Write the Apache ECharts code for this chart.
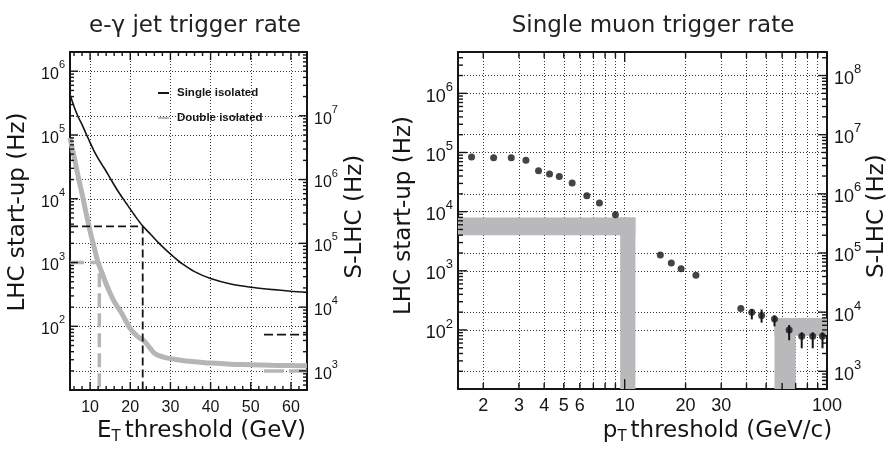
<!DOCTYPE html>
<html><head><meta charset="utf-8">
<script src="https://cdn.jsdelivr.net/npm/echarts@6/dist/echarts.min.js"></script>
<style>html,body{margin:0;padding:0;background:#fff}#c{width:892px;height:450px}</style>
</head><body><div id="c"></div>
<script>
// ---------------- data ----------------
const egTitle = 'e-γ jet trigger rate';
const muTitle = 'Single muon trigger rate';
const seriesNames = ['Single isolated', 'Double isolated'];

// e-gamma panel (LHC start-up rate, Hz)
const etSingle = [5,6,7,8,9,10,11,12,13,14,15,17,19,21,23,25,27,29,31,33,36,40,45,50,55,60,64];
const rateSingle = [430000,280000,195000,145000,105000,76000,56000,43000,34000,27000,21000,13000,8500,5600,3800,2800,2050,1550,1200,950,720,560,460,410,380,355,340];
const etDouble = [5,6,7,8,9,10,11,12,13,14,15,16,17,18,19,20,21,22,23,24,25,26,27,29,31,34,37,40,45,50,55,60,64];
const rateDouble = [90000,46000,23000,12000,6000,3100,1750,1000,680,460,330,245,195,155,118,92,78,68,62,54,45,38,35,32,30.5,28.5,27.5,26.5,25.5,25,24.5,24.3,24];
// chosen thresholds: [Et, rate]
const singleCut = [23.1, 3700];
const doubleCut = [12.3, 1000];
// S-LHC marks on the right scale (Et span, rate)
const sLhcMarkEt = [53.3, 64];
const sLhcSingleRate = 3700;
const sLhcDoubleRate = 1000;

// muon panel
const ptThreshold = [1.75,2.25,2.75,3.25,3.75,4.25,4.75,5.5,6.5,7.5,9,15,17,19,22.5,37.5,42.5,47.5,55,65,75,85,95];
const muonRate = [84000,81500,81500,74000,49300,43500,39400,30600,18500,14000,8900,1850,1350,1080,840,230,200,176,153,100,78,78,78];
const muonErrLow = [null,null,null,null,null,null,null,null,null,null,null,null,null,null,null,null,151,133,115,67,49,49,49];
const muonErrHigh = [null,null,null,null,null,null,null,null,null,null,null,null,null,null,null,null,226,221,176,121,91,91,91];
// allowed-rate bands: [pt range], [rate range]
const lhcBandPt = [9.5, 11.3];
const lhcBandRate = [4000, 8000];     // LHC start-up scale
const slhcBandPt = [55, 70];
const slhcBandRate = [4000, 8000];    // S-LHC scale

// axis ranges / tick labels
const etRange = [5, 64];
const etTicks = [10,20,30,40,50,60];
const eg_lhcRange = [10, 2e6];
const eg_slhcRange = [500, 1e8];
const ptRange = [1.5, 100];
const ptLabels = [2,3,4,5,6,10,20,30,100];
const mu_lhcRange = [10, 5e6];
const mu_slhcRange = [500, 2.5e8];

// ---------------- helpers ----------------
function decades(r){const o=[];for(let e=Math.ceil(Math.log10(r[0])-1e-9);e<=Math.floor(Math.log10(r[1])+1e-9);e++)o.push(Math.pow(10,e));return o;}
function inner(vals,r){return vals.filter(v=>v>r[0]*1.0001&&v<r[1]*0.9999);}
function logMinor(r){const o=[];for(let e=Math.floor(Math.log10(r[0]));e<=Math.ceil(Math.log10(r[1]));e++){for(let m=2;m<=9;m++){o.push(m*Math.pow(10,e));}}return inner(o,r);}
const INK='#151515', GRAY='#b5b5b7', BAND='#b9b9bb';
const TICKF='Liberation Sans', NAMEF='DejaVu Sans';
const dotted={show:true,lineStyle:{color:'#333',width:1,type:[1,2]}};
function supRich(fs){return {b:{fontFamily:TICKF,fontSize:fs,color:INK,lineHeight:fs+7,verticalAlign:'bottom'},s:{fontFamily:TICKF,fontSize:Math.round(fs*0.7),color:INK,lineHeight:fs+7,verticalAlign:'top'}};}
function powFmt(v){return '{b|10}{s|'+Math.round(Math.log10(v))+'}';}
const nameStyle={fontFamily:NAMEF,fontSize:23,color:INK};
const frame={show:true,onZero:false,lineStyle:{color:INK,width:2}};
// axis ticks carry grid-line positions; visible tick marks are added as graphic lines placed via the axes' scales
function gridTicks(vals){return {show:true,customValues:vals,length:0,lineStyle:{opacity:0,width:0}};}
function subRich(){return {a:{fontFamily:NAMEF,fontSize:23,color:INK},t:{fontFamily:NAMEF,fontSize:15,color:INK,padding:[12,4,0,0]}};}

const etMinor=[];for(let v=etRange[0]+1;v<=etRange[1];v+=2){if(v%10!==0)etMinor.push(v);}
const ptMinor=logMinor(ptRange);
const ptDec=inner(decades(ptRange),ptRange);

const xAxis=[
  {type:'value',gridIndex:0,position:'bottom',min:etRange[0],max:etRange[1],
    axisLine:frame,axisTick:gridTicks(etTicks),splitLine:dotted,
    axisLabel:{show:true,customValues:etTicks,fontFamily:TICKF,fontSize:16,color:INK,margin:9},
    name:'{a|E}{t|T}{a|threshold (GeV)}',nameLocation:'middle',nameGap:24,
    nameTextStyle:{padding:[0,0,0,26],rich:subRich()}},
  {type:'value',gridIndex:0,position:'top',min:etRange[0],max:etRange[1],axisLine:frame,
    axisTick:{show:false},axisLabel:{show:false},splitLine:{show:false}},
  {type:'log',logBase:10,gridIndex:1,position:'bottom',min:ptRange[0],max:ptRange[1],
    axisLine:frame,axisTick:gridTicks(ptMinor.concat(ptDec)),splitLine:dotted,
    axisLabel:{show:true,customValues:ptLabels,fontFamily:TICKF,fontSize:18,color:INK,margin:8},
    name:'{a|p}{t|T}{a|threshold (GeV/c)}',nameLocation:'middle',nameGap:22,
    nameTextStyle:{padding:[0,0,0,150],rich:subRich()}},
  {type:'log',logBase:10,gridIndex:1,position:'top',min:ptRange[0],max:ptRange[1],axisLine:frame,
    axisTick:{show:false},axisLabel:{show:false},splitLine:{show:false}}
];

function yMain(grid,pos,range,labFrom,labTo,fs,name,gap,shift){
  const dec=decades(range);
  const labs=dec.filter(v=>v>=labFrom&&v<=labTo);
  return {type:'log',logBase:10,gridIndex:grid,position:pos,min:range[0],max:range[1],
    axisLine:frame,axisTick:gridTicks(inner(dec,range)),splitLine:dotted,
    axisLabel:{show:true,customValues:labs,formatter:powFmt,rich:supRich(fs),margin:pos==='left'?5:7},
    name:name,nameLocation:'middle',nameGap:gap,nameRotate:90,
    nameTextStyle:Object.assign({},nameStyle,{padding:[0,0,0,shift]})};
}
const yAxis=[
  yMain(0,'left',eg_lhcRange,100,1e6,16,'LHC start-up (Hz)',40,18),
  yMain(0,'right',eg_slhcRange,1e3,1e7,16,'S-LHC (Hz)',37,9),
  yMain(1,'left',mu_lhcRange,100,1e6,18,'LHC start-up (Hz)',42,10),
  yMain(1,'right',mu_slhcRange,1e3,1e8,18,'S-LHC (Hz)',38,9)
];

function pairs(xs,ys){return xs.map((x,i)=>[x,ys[i]]);}
function rectItem(params,api){
  const p0=api.coord([api.value(0),api.value(2)]);
  const p1=api.coord([api.value(1),api.value(3)]);
  return {type:'rect',shape:{x:Math.min(p0[0],p1[0]),y:Math.min(p0[1],p1[1]),width:Math.abs(p1[0]-p0[0]),height:Math.abs(p1[1]-p0[1])},style:{fill:BAND}};
}

const series=[
  {type:'custom',name:'lhcBand',xAxisIndex:2,yAxisIndex:2,renderItem:rectItem,silent:true,z:1,
    encode:{x:[0,1],y:[2,3]},
    data:[[ptRange[0],lhcBandPt[1],lhcBandRate[0],lhcBandRate[1]],[lhcBandPt[0],lhcBandPt[1],mu_lhcRange[0],lhcBandRate[1]]]},
  {type:'custom',name:'slhcBand',xAxisIndex:2,yAxisIndex:3,renderItem:rectItem,silent:true,z:1,
    encode:{x:[0,1],y:[2,3]},
    data:[[slhcBandPt[0],ptRange[1],slhcBandRate[0],slhcBandRate[1]],[slhcBandPt[0],slhcBandPt[1],mu_slhcRange[0],slhcBandRate[1]]]},
  {type:'custom',name:'err',xAxisIndex:2,yAxisIndex:2,z:3,encode:{x:0,y:[1,2]},
    data:ptThreshold.map((p,i)=>[p,muonErrLow[i],muonErrHigh[i]]).filter(d=>d[1]!=null),
    renderItem:function(params,api){
      const a=api.coord([api.value(0),api.value(1)]),b=api.coord([api.value(0),api.value(2)]);
      return {type:'line',shape:{x1:a[0],y1:a[1],x2:b[0],y2:b[1]},style:{stroke:INK,lineWidth:2}};
    }},
  {type:'scatter',name:'muon',xAxisIndex:2,yAxisIndex:2,symbol:'circle',symbolSize:7,z:4,
    itemStyle:{color:INK},data:pairs(ptThreshold,muonRate)},
  {type:'line',name:seriesNames[1],xAxisIndex:0,yAxisIndex:0,data:pairs(etDouble,rateDouble),
    showSymbol:false,symbol:'none',smooth:0.3,lineStyle:{color:GRAY,width:5},itemStyle:{color:GRAY},z:2},
  {type:'line',name:seriesNames[0],xAxisIndex:0,yAxisIndex:0,data:pairs(etSingle,rateSingle),
    showSymbol:false,symbol:'none',smooth:0.3,lineStyle:{color:INK,width:1.6},itemStyle:{color:INK},z:3},
  {type:'line',name:'singleCut',xAxisIndex:0,yAxisIndex:0,symbol:'none',
    data:[[etRange[0],singleCut[1]],[singleCut[0],singleCut[1]],[singleCut[0],eg_lhcRange[0]]],
    lineStyle:{color:INK,width:1.8,type:[8,4]},z:3},
  {type:'line',name:'doubleCut',xAxisIndex:0,yAxisIndex:0,symbol:'none',
    data:[[etRange[0],doubleCut[1]],[doubleCut[0],doubleCut[1]],[doubleCut[0],eg_lhcRange[0]]],
    lineStyle:{color:GRAY,width:3.5,type:[14,6]},z:2},
  {type:'line',name:'slhcSingle',xAxisIndex:0,yAxisIndex:1,symbol:'none',
    data:[[sLhcMarkEt[0],sLhcSingleRate],[sLhcMarkEt[1],sLhcSingleRate]],
    lineStyle:{color:INK,width:1.8,type:[9,4]},z:3},
  {type:'line',name:'slhcDouble',xAxisIndex:0,yAxisIndex:1,symbol:'none',
    data:[[sLhcMarkEt[0],sLhcDoubleRate],[sLhcMarkEt[1],sLhcDoubleRate]],
    lineStyle:{color:GRAY,width:3.5,type:[20,5]},z:2}
];

const option={
  animation:false,
  backgroundColor:'#fff',
  title:[
    {text:egTitle,left:190,top:10,textAlign:'center',textStyle:{fontFamily:NAMEF,fontSize:23,fontWeight:'normal',color:'#222'}},
    {text:muTitle,left:648,top:10,textAlign:'center',textStyle:{fontFamily:NAMEF,fontSize:23,fontWeight:'normal',color:'#222'}}
  ],
  legend:{data:[seriesNames[0],seriesNames[1]],left:152,top:82,orient:'vertical',itemWidth:11,itemHeight:7,itemGap:13,
    itemStyle:{opacity:0},
    textStyle:{fontFamily:TICKF,fontWeight:'bold',fontSize:11.5,color:INK,padding:[0,0,0,3]}},
  grid:[{left:70,top:52,width:237,height:348},{left:458,top:52,width:369,height:348}],
  xAxis:xAxis,
  yAxis:yAxis,
  series:series
};
const chart=echarts.init(document.getElementById('c'),null,{renderer:'canvas',width:892,height:450});
chart.setOption(option);

// ---- tick marks: positions come from the axes' own scales (convertToPixel) ----
const tickEls=[];
function addTicks(xi,yi,side,vals,len,xr,yr){
  const f={xAxisIndex:xi,yAxisIndex:yi};
  vals.forEach(v=>{
    if(side==='x'){
      const b=chart.convertToPixel(f,[v,yr[0]]), t=chart.convertToPixel(f,[v,yr[1]]);
      if(!b||!t) return;
      tickEls.push({type:'line',silent:true,z:50,shape:{x1:b[0],y1:b[1],x2:b[0],y2:b[1]-len},style:{stroke:INK,lineWidth:1.4}});
      tickEls.push({type:'line',silent:true,z:50,shape:{x1:t[0],y1:t[1],x2:t[0],y2:t[1]+len},style:{stroke:INK,lineWidth:1.4}});
    } else {
      const p=chart.convertToPixel(f,[side==='left'?xr[0]:xr[1],v]);
      if(!p) return;
      const d=side==='left'?len:-len;
      tickEls.push({type:'line',silent:true,z:50,shape:{x1:p[0],y1:p[1],x2:p[0]+d,y2:p[1]},style:{stroke:INK,lineWidth:1.4}});
    }
  });
}
addTicks(0,0,'x',etTicks,8,etRange,eg_lhcRange);
addTicks(0,0,'x',etMinor,4,etRange,eg_lhcRange);
addTicks(0,0,'left',inner(decades(eg_lhcRange),eg_lhcRange),8,etRange,eg_lhcRange);
addTicks(0,0,'left',logMinor(eg_lhcRange),4,etRange,eg_lhcRange);
addTicks(0,1,'right',inner(decades(eg_slhcRange),eg_slhcRange),8,etRange,eg_slhcRange);
addTicks(0,1,'right',logMinor(eg_slhcRange),4,etRange,eg_slhcRange);
addTicks(2,2,'x',ptDec,10,ptRange,mu_lhcRange);
addTicks(2,2,'x',ptMinor,6,ptRange,mu_lhcRange);
addTicks(2,2,'left',inner(decades(mu_lhcRange),mu_lhcRange),9,ptRange,mu_lhcRange);
addTicks(2,2,'left',logMinor(mu_lhcRange),5,ptRange,mu_lhcRange);
addTicks(2,3,'right',inner(decades(mu_slhcRange),mu_slhcRange),9,ptRange,mu_slhcRange);
addTicks(2,3,'right',logMinor(mu_slhcRange),5,ptRange,mu_slhcRange);
chart.setOption({graphic:{elements:tickEls}});
</script>
</body></html>
